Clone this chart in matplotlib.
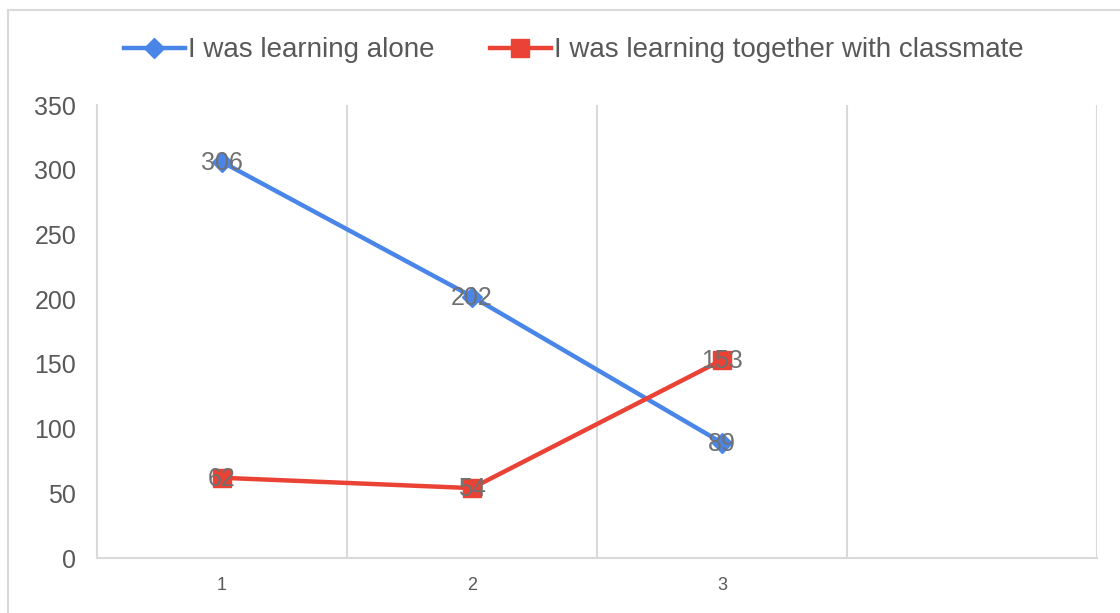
import matplotlib.pyplot as plt
from matplotlib.patches import Rectangle

plt.rcParams['font.family'] = ['Liberation Sans', 'DejaVu Sans']

categories = ['1', '2', '3', '']
alone = [306, 202, 89]
together = [62, 54, 153]

fig = plt.figure(figsize=(11.2, 6.13), dpi=100)
ax = fig.add_axes([0.0866, 0.0897, 0.8929, 0.739])

# outer chart border (cropped at right/bottom)
fig.patches.append(Rectangle((8 / 1120, -0.1), 1.2, 1 - 10 / 613 + 0.1,
                             transform=fig.transFigure, fill=False,
                             edgecolor='#d9d9d9', linewidth=1.5))

x = list(range(len(alone)))
blue = '#4a86e8'
red = '#ea4335'
ax.plot(x, alone, color=blue, lw=3.2, marker='D', ms=10, mec=blue, mfc=blue,
        label='I was learning alone', zorder=3)
ax.plot(x, together, color=red, lw=3.2, marker='s', ms=13, mec=red, mfc=red,
        label='I was learning together with classmate', zorder=3)

for xi, v in zip(x, alone):
    ax.text(xi, v - 1, str(v), ha='center', va='center', fontsize=18, color='#707070', zorder=4)
for xi, v in zip(x, together):
    ax.text(xi, v - 1, str(v), ha='center', va='center', fontsize=18, color='#707070', zorder=4)

ax.set_xlim(-0.5, len(categories) - 0.5)
ax.set_ylim(0, 350)
ax.set_yticks(range(0, 351, 50))
ax.set_xticks(x)
ax.set_xticklabels(categories[:3])
ax.tick_params(axis='y', length=0, pad=15, labelsize=18, labelcolor='#595959')
ax.tick_params(axis='x', length=0, pad=14, labelsize=13, labelcolor='#595959')

for b in [0.5, 1.5, 2.5, 3.5]:
    ax.axvline(b, color='#d9d9d9', lw=1.5, zorder=1)
for s in ['top', 'right']:
    ax.spines[s].set_visible(False)
for s in ['left', 'bottom']:
    ax.spines[s].set_color('#d9d9d9')
    ax.spines[s].set_linewidth(1.5)

fig.legend(loc='center', bbox_to_anchor=(0.512, 0.918), ncol=2, frameon=False,
           fontsize=20, labelcolor='#595959', handlelength=2.2, handletextpad=0.1,
           columnspacing=2.0)

fig.savefig('out.png', dpi=100)
